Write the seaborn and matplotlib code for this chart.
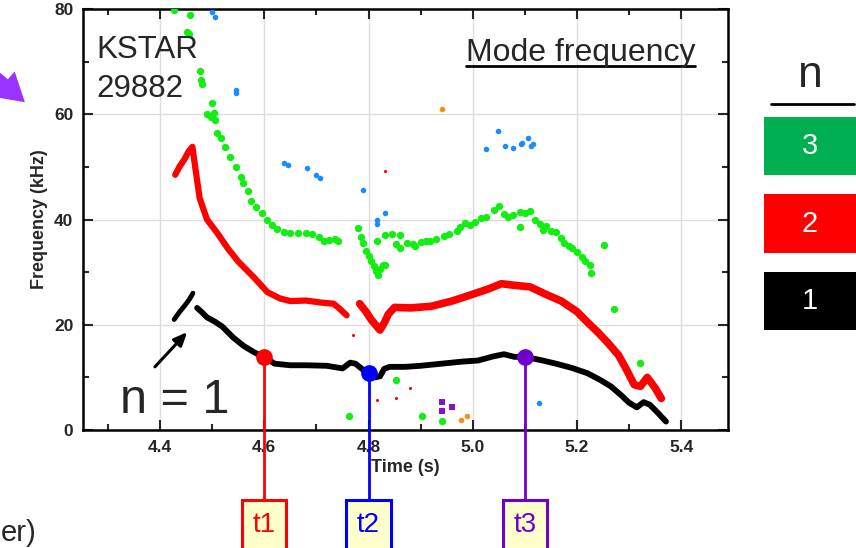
import matplotlib
matplotlib.use("Agg")
import matplotlib.pyplot as plt
import matplotlib.transforms as mtransforms
import seaborn as sns
import pandas as pd
from matplotlib.ticker import MultipleLocator, FormatStrFormatter
from matplotlib.patches import Rectangle, FancyArrowPatch
from matplotlib.lines import Line2D

# ---- n = 1 mode (black band), two pieces ----
n1a_time = [4.427, 4.437, 4.447, 4.456, 4.463]
n1a_freq = [21.0, 22.4, 23.6, 24.8, 26.0]
n1b_time = [4.471, 4.48, 4.49, 4.505, 4.52, 4.54, 4.56, 4.58, 4.6, 4.62, 4.65, 4.68,
            4.72, 4.75, 4.765, 4.775, 4.79, 4.8, 4.812, 4.822, 4.83, 4.84, 4.87, 4.9,
            4.94, 4.98, 5.01, 5.04, 5.06, 5.08, 5.1, 5.13, 5.16, 5.19, 5.22, 5.245,
            5.265, 5.285, 5.3, 5.315, 5.328, 5.34, 5.355, 5.371]
n1b_freq = [23.2, 22.4, 21.4, 20.6, 19.6, 17.6, 16.0, 14.8, 13.8, 12.6, 12.3, 12.3,
            12.2, 11.7, 12.8, 12.6, 11.4, 10.8, 10.0, 10.2, 11.6, 12.0, 12.0, 12.2,
            12.6, 13.0, 13.2, 14.0, 14.4, 13.9, 13.9, 13.3, 12.6, 11.8, 10.8, 9.5,
            8.3, 6.6, 5.2, 4.3, 5.3, 4.8, 3.3, 1.6]

# ---- n = 2 mode (red band), two pieces ----
n2a_time = [4.429, 4.437, 4.447, 4.455, 4.462, 4.468, 4.476, 4.49, 4.51, 4.53, 4.55,
            4.58, 4.606, 4.63, 4.65, 4.68, 4.71, 4.733, 4.745, 4.758]
n2a_freq = [48.5, 50.0, 51.5, 53.0, 53.8, 49.5, 44.0, 40.0, 37.4, 34.5, 32.0,
            29.0, 26.2, 25.0, 24.5, 24.6, 24.2, 24.0, 23.0, 21.8]
n2b_time = [4.783, 4.795, 4.805, 4.815, 4.822, 4.83, 4.838, 4.85, 4.88, 4.92, 4.96,
            5.0, 5.03, 5.055, 5.08, 5.11, 5.14, 5.17, 5.2, 5.22, 5.24, 5.26, 5.28,
            5.295, 5.31, 5.322, 5.335, 5.35, 5.362]
n2b_freq = [24.0, 22.5, 21.0, 19.8, 19.0, 20.3, 22.0, 23.3, 23.2, 23.5, 24.5,
            25.8, 26.8, 27.8, 27.5, 27.2, 25.8, 24.5, 22.5, 20.5, 18.6, 16.5, 14.2,
            11.5, 8.6, 8.3, 10.0, 8.0, 6.0]

# ---- n = 3 mode (green points) ----
n3_time = [4.427, 4.458, 4.452, 4.455, 4.477, 4.479, 4.48, 4.5, 4.49, 4.497, 4.503,
           4.505, 4.51, 4.517, 4.525, 4.535, 4.545, 4.555, 4.56, 4.568, 4.575, 4.585,
           4.595, 4.606, 4.615, 4.625, 4.637, 4.65, 4.665, 4.68, 4.692, 4.705, 4.715,
           4.725, 4.735, 4.742,
           4.78, 4.786, 4.79, 4.795, 4.8, 4.805, 4.81, 4.815, 4.819, 4.823, 4.828, 4.832,
           4.817, 4.832, 4.845, 4.853, 4.86, 4.86, 4.873, 4.885, 4.89, 4.9, 4.91, 4.918,
           4.93, 4.944, 4.955, 4.97, 4.975, 4.985, 4.995, 5.005, 5.015, 5.025, 5.04,
           5.05, 5.06, 5.068, 5.078, 5.09, 5.1, 5.11, 5.09, 5.12, 5.13, 5.135, 5.14,
           5.15, 5.16, 5.17, 5.175, 5.185, 5.19, 5.2, 5.21, 5.215, 5.225, 5.228,
           5.252, 5.271, 5.321, 4.762, 4.902, 4.942, 4.852]
n3_freq = [79.8, 78.8, 75.6, 75.2, 68.2, 66.6, 65.8, 62.2, 60.0, 59.5, 60.3,
           59.0, 56.5, 55.5, 53.8, 51.9, 50.0, 48.0, 46.9, 45.5, 43.6, 42.4,
           41.2, 39.9, 38.9, 38.2, 37.6, 37.5, 37.4, 37.5, 37.2, 36.6, 36.0,
           36.1, 36.3, 35.9,
           38.4, 36.7, 35.5, 34.0, 33.0, 32.2, 31.2, 30.2, 29.5, 30.6, 31.3, 31.4,
           36.0, 37.0, 37.2, 35.3, 37.1, 34.5, 35.6, 35.3, 35.0, 35.8, 36.0, 35.9,
           36.3, 36.8, 37.2, 37.8, 38.5, 39.3, 39.0, 39.6, 40.2, 40.5, 41.8,
           42.5, 41.0, 40.4, 40.9, 41.4, 41.2, 41.6, 38.6, 40.0, 39.2, 38.0, 38.7,
           37.9, 37.6, 36.5, 35.5, 35.0, 34.5, 33.9, 32.8, 32.2, 31.3, 29.9,
           35.2, 23.0, 12.7, 2.7, 2.7, 1.7, 9.5]

# ---- other detected components ----
blue_time = [4.5, 4.506, 4.546, 4.546, 4.637, 4.645, 4.681, 4.70, 4.706, 4.79, 4.817,
             4.817, 4.831, 5.025, 5.048, 5.062, 5.077, 5.092, 5.095, 5.106, 5.112,
             5.115, 5.127]
blue_freq = [79.5, 78.4, 64.6, 64.0, 50.7, 50.3, 49.8, 48.5, 47.9, 45.6, 40.0,
             39.2, 41.2, 53.4, 56.8, 54.0, 53.6, 54.3, 54.5, 55.5, 54.0,
             54.3, 5.1]
orange_time = [4.942, 4.977, 4.99]
orange_freq = [61.0, 1.9, 2.7]
purple_time = [4.942, 4.942, 4.96]
purple_freq = [5.3, 3.6, 4.4]
stray_red_time = [4.831, 4.817, 4.852, 4.771, 4.88]
stray_red_freq = [49.2, 5.7, 6.1, 18.1, 8.0]

# ---- time markers ----
marker_labels = ["t1", "t2", "t3"]
marker_time = [4.6, 4.8, 5.1]
marker_freq = [13.9, 10.8, 13.9]
marker_colors = ["#ff0000", "#0000ff", "#7000cc"]

# ---- mode-number key ----
key_labels = ["3", "2", "1"]
key_colors = ["#00b050", "#ff0000", "#000000"]

GREEN = "#11ee11"
BLUE = "#1a8cff"
ORANGE = "#ff8c1a"
PURPLE = "#8a10d0"

sns.set_style("ticks")
plt.rcParams["font.family"] = ["Liberation Sans", "DejaVu Sans"]

W, H = 856, 548
fig = plt.figure(figsize=(W / 100, H / 100), dpi=100)


def fx(px):
    return px / W


def fy(py):
    return 1 - py / H


ax = fig.add_axes([fx(83), fy(430), fx(728) - fx(83), fy(9) - fy(430)])

# bands
for t, f, c, lw in [(n2a_time, n2a_freq, "#ff0000", 4.5),
                    (n2b_time, n2b_freq, "#ff0000", 5.5),
                    (n1a_time, n1a_freq, "#000000", 3.5),
                    (n1b_time, n1b_freq, "#000000", 4.2)]:
    df = pd.DataFrame({"time": t, "freq": f})
    sns.lineplot(data=df, x="time", y="freq", sort=False, estimator=None,
                 color=c, linewidth=lw, ax=ax, solid_capstyle="round", zorder=3)

sns.scatterplot(x=n3_time, y=n3_freq, color=GREEN, s=28, linewidth=0, ax=ax, zorder=3)
sns.scatterplot(x=blue_time, y=blue_freq, color=BLUE, s=16, linewidth=0, ax=ax, zorder=3)
sns.scatterplot(x=orange_time, y=orange_freq, color=ORANGE, s=16, linewidth=0, ax=ax, zorder=3)
sns.scatterplot(x=purple_time, y=purple_freq, color=PURPLE, s=18, marker="s",
                linewidth=0, ax=ax, zorder=3)
sns.scatterplot(x=stray_red_time, y=stray_red_freq, color="#ff0000", s=5,
                linewidth=0, ax=ax, zorder=3)

ax.set_xlim(4.252, 5.49)
ax.set_ylim(0, 80)
ax.xaxis.set_major_locator(MultipleLocator(0.2))
ax.xaxis.set_minor_locator(MultipleLocator(0.1))
ax.yaxis.set_major_locator(MultipleLocator(20))
ax.yaxis.set_minor_locator(MultipleLocator(10))
ax.xaxis.set_major_formatter(FormatStrFormatter("%.1f"))
ax.grid(True, which="major", color="#dddddd", linewidth=1, zorder=0)
ax.set_axisbelow(True)
ax.tick_params(which="major", direction="in", top=True, right=True,
               length=7, width=1.5, labelsize=12.5, pad=7)
ax.tick_params(which="minor", direction="in", top=True, right=True,
               length=4.5, width=1.5)
for lab in ax.get_xticklabels() + ax.get_yticklabels():
    lab.set_fontweight("bold")
for sp in ax.spines.values():
    sp.set_linewidth(1.8)
    sp.set_color("black")
ax.set_xlabel("Time (s)", fontsize=13, fontweight="bold", labelpad=3)
ax.set_ylabel("Frequency (kHz)", fontsize=13, fontweight="bold", labelpad=4)

# text inside the axes
fig.text(fx(96), fy(58), "KSTAR", fontsize=22.5, va="baseline", ha="left")
fig.text(fx(96), fy(97), "29882", fontsize=22.5, va="baseline", ha="left")
fig.text(fx(695), fy(61), "Mode frequency", fontsize=23, va="baseline", ha="right")
fig.add_artist(Line2D([fx(466), fx(695)], [fy(66), fy(66)], color="black", lw=2))
ax.text(4.323, 3.2, "n = 1", fontsize=35, va="baseline", ha="left")
ax.annotate("", xy=(4.452, 18.6), xytext=(4.390, 12.0),
            arrowprops=dict(arrowstyle="-|>,head_length=0.8,head_width=0.35",
                            color="black", lw=2.2, shrinkA=0, shrinkB=0))

# time markers: stem down to a labelled box below the axes
mixed = mtransforms.blended_transform_factory(ax.transData, fig.transFigure)
box_half = 0.0423
for lab, t, f, c in zip(marker_labels, marker_time, marker_freq, marker_colors):
    ax.plot([t, t], [f, -13.3], color=c, lw=2, clip_on=False, zorder=5)
    ax.plot([t], [f], "o", color=c, markersize=11, zorder=6, clip_on=False)
    fig.add_artist(Rectangle((t - box_half, fy(555)), 2 * box_half, 55 / H,
                             transform=mixed, fc="#ffffcc", ec=c, lw=2.2,
                             clip_on=False, zorder=6))
    fig.text(t, fy(525), lab, transform=mixed, fontsize=20, color=c,
             ha="center", va="center", zorder=7)

# mode-number key
fig.text(fx(810), fy(87), "n", fontsize=32, ha="center", va="baseline")
fig.add_artist(Line2D([fx(771), fx(854)], [fy(104), fy(104)], color="black", lw=2))
for i, (lab, c) in enumerate(zip(key_labels, key_colors)):
    top = 117 + i * 77.5
    fig.add_artist(Rectangle((fx(764), fy(top + 58)), fx(92), 58 / H,
                             transform=fig.transFigure, fc=c, ec="none"))
    fig.text(fx(810), fy(top + 29), lab, fontsize=21, color="white",
             ha="center", va="center")

# neighbouring slide content at the margins
fig.add_artist(FancyArrowPatch((fx(-22), fy(62)), (fx(27), fy(104)),
                               transform=fig.transFigure,
                               arrowstyle="simple,head_length=20,head_width=24,tail_width=9",
                               mutation_scale=1, color="#9933ff", lw=0))
fig.text(fx(1), fy(541), "er)", fontsize=21, ha="left", va="baseline")

fig.savefig("out.png", dpi=100)
